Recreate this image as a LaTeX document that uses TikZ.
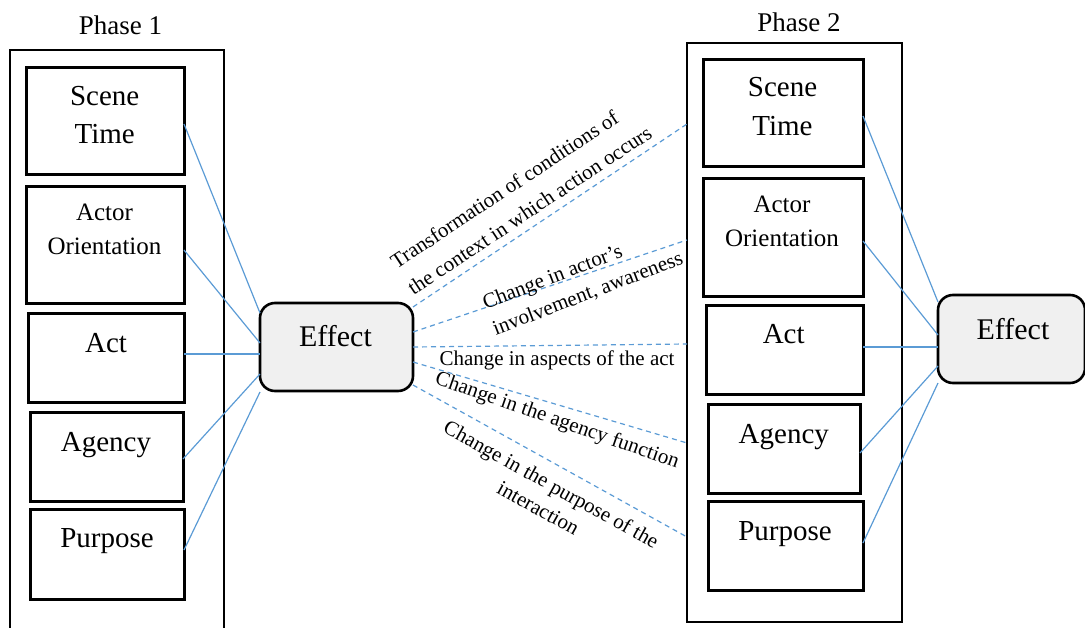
\documentclass[tikz,border=0pt]{standalone}
\usepackage{fontspec}
\setmainfont{Liberation Serif}
\definecolor{lnblue}{HTML}{5B9BD5}
\definecolor{effgray}{HTML}{F0F0F0}
\begin{document}
\begin{tikzpicture}[x=1pt,y=-1pt,
  outerbox/.style={draw=black, line width=2.4pt, inner sep=0pt, outer sep=0pt},
  cbox/.style={draw=black, line width=3pt, inner sep=0pt, outer sep=0pt},
  effbox/.style={draw=black, line width=2.6pt, fill=effgray, rounded corners=15pt, inner sep=0pt, outer sep=0pt},
  conn/.style={draw=lnblue, line width=1.2pt},
  dconn/.style={draw=lnblue, line width=1.2pt, dash pattern=on 5pt off 4pt},
  btxt/.style={inner sep=0pt, anchor=base, font=\fontsize{29}{35}\selectfont},
  stxt/.style={inner sep=0pt, anchor=base, font=\fontsize{25}{30}\selectfont},
  etxt/.style={inner sep=0pt, anchor=base, font=\fontsize{30}{36}\selectfont},
  ptxt/.style={inner sep=0pt, anchor=base, font=\fontsize{27}{32}\selectfont},
  lbl/.style={inner sep=0pt, font=\fontsize{21}{27}\selectfont}]
\useasboundingbox (0,0) rectangle (1085,627);
\clip (0,0) rectangle (1085,627);

% ---------- Phase 1 ----------
\node[ptxt] (ph1) at (120.5,34) {Phase 1};
\node[outerbox, minimum width=214pt, minimum height=600pt] (o1) at (117,350) {};
\node[cbox, minimum width=158pt, minimum height=107pt] (s1) at (105,120.5) {};
\node[cbox, minimum width=158pt, minimum height=117pt] (a1) at (105,244.5) {};
\node[cbox, minimum width=156pt, minimum height=89pt] (act1) at (106,357.5) {};
\node[cbox, minimum width=153pt, minimum height=89pt] (ag1) at (106.5,456.5) {};
\node[cbox, minimum width=154pt, minimum height=90pt] (p1) at (107,554) {};
\node[btxt] (s1a) at (104.7,105) {Scene};
\node[btxt] (s1b) at (104.7,143) {Time};
\node[stxt] (a1a) at (104.5,220) {Actor};
\node[stxt] (a1b) at (104.5,254) {Orientation};
\node[btxt] (act1t) at (106,352) {Act};
\node[btxt] (ag1t) at (106,451) {Agency};
\node[btxt] (p1t) at (107,547) {Purpose};

\node[effbox, minimum width=153pt, minimum height=88pt] (e1) at (336.5,347) {};
\node[etxt] (e1t) at (335.5,346) {Effect};

% ---------- Phase 2 ----------
\node[ptxt] (ph2) at (799,31) {Phase 2};
\node[outerbox, minimum width=215pt, minimum height=579pt] (o2) at (794.5,332.5) {};
\node[cbox, minimum width=160pt, minimum height=107pt] (s2) at (783,112.5) {};
\node[cbox, minimum width=160pt, minimum height=118pt] (a2) at (783,237) {};
\node[cbox, minimum width=157pt, minimum height=89pt] (act2) at (784.5,349.5) {};
\node[cbox, minimum width=152pt, minimum height=89pt] (ag2) at (784,448.5) {};
\node[cbox, minimum width=155pt, minimum height=89pt] (p2) at (785.5,545.5) {};
\node[btxt] (s2a) at (782.5,96) {Scene};
\node[btxt] (s2b) at (782.5,135) {Time};
\node[stxt] (a2a) at (782,212) {Actor};
\node[stxt] (a2b) at (782,246) {Orientation};
\node[btxt] (act2t) at (783.7,343) {Act};
\node[btxt] (ag2t) at (783.8,443) {Agency};
\node[btxt] (p2t) at (785,540) {Purpose};

\node[effbox, minimum width=147pt, minimum height=88pt] (e2) at (1011.5,339) {};
\node[etxt] (e2t) at (1013,339) {Effect};

% ---------- connectors phase 1 ----------
\draw[conn] ([yshift=-3.5pt]s1.east) -- ([yshift=34pt]e1.west);
\draw[conn] ([yshift=-5.5pt]a1.east) -- ([yshift=4pt]e1.west);
\draw[conn, line width=2pt] ([yshift=3.5pt]act1.east) -- ([yshift=-7pt]e1.west);
\draw[conn] ([yshift=-2.5pt]ag1.east) -- ([yshift=-27pt]e1.west);
\draw[conn] ([yshift=4pt]p1.east) -- ([yshift=-45pt]e1.west);

% ---------- connectors phase 2 ----------
\draw[conn] ([yshift=-3.5pt]s2.east) -- ([yshift=37pt]e2.west);
\draw[conn] ([yshift=-4pt]a2.east) -- ([yshift=4pt]e2.west);
\draw[conn, line width=2pt] ([yshift=2.5pt]act2.east) -- ([yshift=-8pt]e2.west);
\draw[conn] ([yshift=-4.5pt]ag2.east) -- ([yshift=-27pt]e2.west);
\draw[conn] ([yshift=2.5pt]p2.east) -- ([yshift=-44pt]e2.west);

% ---------- dashed transitions ----------
\draw[dconn] ([yshift=40pt]e1.east) -- ([yshift=208.5pt]o2.west);
\draw[dconn] ([yshift=15pt]e1.east) -- ([yshift=92.5pt]o2.west);
\draw[dconn] ([yshift=0pt]e1.east) -- ([yshift=-11.5pt]o2.west);
\draw[dconn] ([yshift=-15pt]e1.east) -- ([yshift=-110.5pt]o2.west);
\draw[dconn] ([yshift=-38pt]e1.east) -- ([yshift=-204.5pt]o2.west);

% ---------- labels ----------
\node[lbl, rotate=33.5, align=left, font=\fontsize{21}{31}\selectfont] (l1) at (521,197)
  {Transformation of conditions of\\the context in which action occurs};
\node[lbl, rotate=21, align=left, font=\fontsize{21}{28}\selectfont] (l2) at (583,281)
  {Change in actor’s\\involvement, awareness};
\node[lbl, anchor=base] (l3) at (557,365) {Change in aspects of the act};
\node[lbl, rotate=-19.3] (l4) at (557,421) {Change in the agency function};
\node[lbl, rotate=-29, align=center, font=\fontsize{21}{27}\selectfont] (l5) at (545,496)
  {Change in the purpose of the\\interaction};
\end{tikzpicture}
\end{document}
